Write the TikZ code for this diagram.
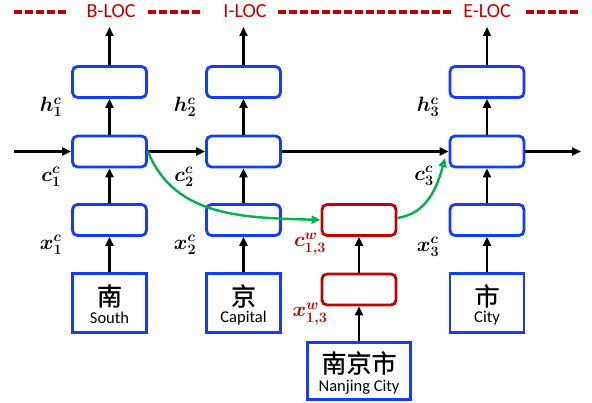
\documentclass[tikz,border=0pt]{standalone}
\usepackage{fontspec}
\setmainfont{Carlito}
\newfontfamily\cjk{Noto Sans CJK SC}[FakeBold=0.8]
\usepackage{amsmath,bm}
\usetikzlibrary{arrows.meta}
\definecolor{cellblue}{RGB}{20,60,255}
\definecolor{darkred}{RGB}{192,0,0}
\definecolor{arcgreen}{RGB}{0,176,80}
\tikzset{
  cell/.style={draw=cellblue, line width=2.8pt, rounded corners=5pt, minimum width=74pt, minimum height=31pt, inner sep=0pt},
  redcell/.style={cell, draw=darkred},
  charbox/.style={draw=cellblue, line width=2.8pt, minimum width=74pt, minimum height=59pt, inner sep=0pt},
  flow/.style={line width=2.2pt, -{Triangle[width=8pt,length=9pt]}},
  greenflow/.style={draw=arcgreen, line width=2.4pt, -{Triangle[width=8pt,length=9pt]}},
  tagline/.style={draw=darkred, line width=3.4pt, dash pattern=on 8pt off 3pt},
  tagtext/.style={text=darkred, font=\fontsize{20}{22}\selectfont, inner sep=0pt},
  mlabel/.style={font=\fontsize{21}{23}\selectfont, inner sep=0pt},
  zh/.style={font=\cjk\fontsize{25}{27}\selectfont, inner sep=0pt},
  en/.style={font=\fontsize{16.5}{18}\selectfont, inner sep=0pt},
}
\begin{document}
\begin{tikzpicture}[x=1pt,y=-1pt]
\useasboundingbox (0,0) rectangle (592,403);
% top tags
\node[tagtext, anchor=base] (tb) at (111,18) {B-LOC};
\node[tagtext, anchor=base] (ti) at (245,18) {I-LOC};
\node[tagtext, anchor=base] (te) at (487,18) {E-LOC};
\coordinate (d1a) at (14,12); \coordinate (d1b) at (69,12);
\coordinate (d2a) at (148,12); \coordinate (d2b) at (203,12);
\coordinate (d3a) at (278,12); \coordinate (d3b) at (452,12);
\coordinate (d4a) at (526,12); \coordinate (d4b) at (581,12);
\draw[tagline] (d1a) -- (d1b);
\draw[tagline] (d2a) -- (d2b);
\draw[tagline] (d3a) -- (d3b);
\draw[tagline] (d4a) -- (d4b);
% columns
\foreach \i/\x in {1/109.5, 2/243.5, 3/487} {
  \node[cell] (h\i) at (\x,82) {};
  \node[cell] (c\i) at (\x,151.5) {};
  \node[cell] (x\i) at (\x,220) {};
  \node[charbox] (ch\i) at (\x,303) {};
  \coordinate (o\i) at (\x,27);
}
\node[zh] (z1) at (109.5,296) {南};
\node[en] (e1) at (109.5,318) {South};
\node[zh] (z2) at (243.5,296) {京};
\node[en] (e2) at (243.5,318) {Capital};
\node[zh] (z3) at (487,296) {市};
\node[en] (e3) at (487,318) {City};
% word column
\node[redcell] (w1) at (359,220) {};
\node[redcell] (w2) at (359,289.5) {};
\node[charbox, minimum width=103pt, minimum height=57pt] (nj) at (359,371) {};
\node[zh] (zn) at (359,363) {南京市};
\node[en] (en) at (359,387) {Nanjing City};
% vertical arrows
\foreach \i in {1,2,3} {
  \draw[flow] (ch\i.north) -- (x\i.south);
  \draw[flow] (x\i.north) -- (c\i.south);
  \draw[flow] (c\i.north) -- (h\i.south);
  \draw[flow] (h\i.north) -- (o\i);
}
\draw[flow] (nj.north) -- (w2.south);
\draw[flow] (w2.north) -- (w1.south);
% horizontal chain
\coordinate (start) at (14,151.5);
\coordinate (end) at (581,151.5);
\draw[flow] (start) -- (c1.west);
\draw[flow] (c1.east) -- (c2.west);
\draw[flow] (c2.east) -- (c3.west);
\draw[flow] (c3.east) -- (end);
% green arcs
\draw[greenflow] (c1.east) to[out=-68,in=178] (w1.west);
\coordinate (gtip) at (445,158);
\draw[greenflow] ([yshift=2pt]w1.east) to[out=8,in=-105] (gtip);
% labels
\node[mlabel] (lh1) at (51,107) {$\bm{h}^{\bm{c}}_{\bm{1}}$};
\node[mlabel] (lc1) at (51,177) {$\bm{c}^{\bm{c}}_{\bm{1}}$};
\node[mlabel] (lx1) at (51,245) {$\bm{x}^{\bm{c}}_{\bm{1}}$};
\node[mlabel] (lh2) at (185,107) {$\bm{h}^{\bm{c}}_{\bm{2}}$};
\node[mlabel] (lc2) at (184,177) {$\bm{c}^{\bm{c}}_{\bm{2}}$};
\node[mlabel] (lx2) at (185,245) {$\bm{x}^{\bm{c}}_{\bm{2}}$};
\node[mlabel] (lh3) at (428,107) {$\bm{h}^{\bm{c}}_{\bm{3}}$};
\node[mlabel] (lc3) at (424,176) {$\bm{c}^{\bm{c}}_{\bm{3}}$};
\node[mlabel] (lx3) at (428,247) {$\bm{x}^{\bm{c}}_{\bm{3}}$};
\node[mlabel, text=darkred] (lcw) at (310,244) {$\bm{c}^{\bm{w}}_{\bm{1,3}}$};
\node[mlabel, text=darkred] (lxw) at (310,314) {$\bm{x}^{\bm{w}}_{\bm{1,3}}$};
\end{tikzpicture}
\end{document}
